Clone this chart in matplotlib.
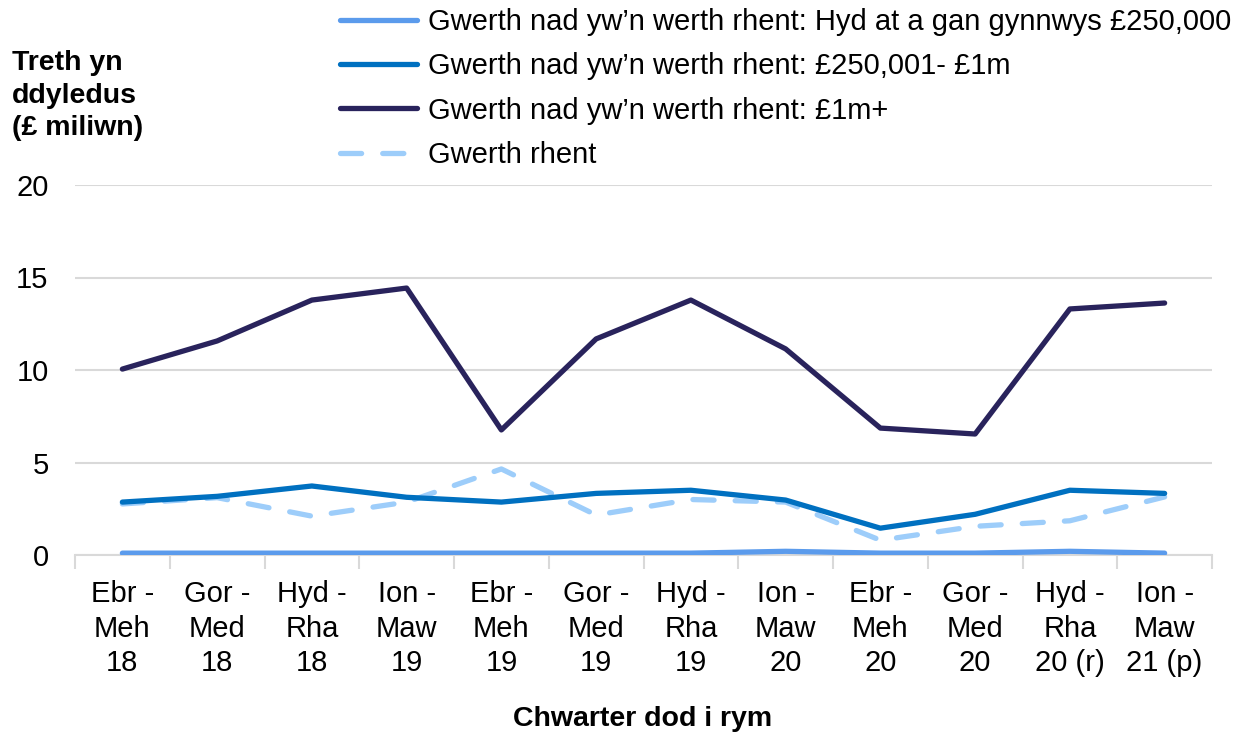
import matplotlib
matplotlib.use('Agg')
import matplotlib.pyplot as plt
import numpy as np

plt.rcParams['font.family'] = ['Liberation Sans', 'DejaVu Sans']

# DATA
quarters = ['Ebr -\nMeh\n18', 'Gor -\nMed\n18', 'Hyd -\nRha\n18', 'Ion -\nMaw\n19',
            'Ebr -\nMeh\n19', 'Gor -\nMed\n19', 'Hyd -\nRha\n19', 'Ion -\nMaw\n20',
            'Ebr -\nMeh\n20', 'Gor -\nMed\n20', 'Hyd -\nRha\n20 (r)', 'Ion -\nMaw\n21 (p)']
low_band = [0.1, 0.1, 0.1, 0.1, 0.1, 0.1, 0.1, 0.2, 0.1, 0.1, 0.2, 0.1]
mid_band = [2.86, 3.17, 3.73, 3.12, 2.86, 3.33, 3.5, 2.97, 1.45, 2.2, 3.5, 3.33]
high_band = [10.05, 11.57, 13.78, 14.43, 6.76, 11.68, 13.78, 11.14, 6.86, 6.54, 13.3, 13.62]
rent = [2.76, 3.1, 2.1, 2.86, 4.65, 2.16, 3.0, 2.86, 0.8, 1.55, 1.85, 3.14]
labels = ['Gwerth nad yw\u2019n werth rhent: Hyd at a gan gynnwys \u00a3250,000',
          'Gwerth nad yw\u2019n werth rhent: \u00a3250,001- \u00a31m',
          'Gwerth nad yw\u2019n werth rhent: \u00a31m+',
          'Gwerth rhent']

fig = plt.figure(figsize=(12.59, 7.33), dpi=100)
ax = fig.add_axes([75/1259, 1-555/733, (1212-75)/1259, (555-185)/733])

x = np.arange(len(quarters))
lw = 3.8
l1, = ax.plot(x, low_band, color='#5b9bec', lw=lw, solid_capstyle='round', zorder=3)
l2, = ax.plot(x, mid_band, color='#0070c0', lw=lw, solid_capstyle='round', zorder=4)
l3, = ax.plot(x, high_band, color='#29235c', lw=lw, solid_capstyle='round', zorder=5)
l4, = ax.plot(x, rent, color='#9dcdfa', lw=lw, dashes=(4, 4), dash_capstyle='round', zorder=3)

ax.set_xlim(-0.5, len(quarters) - 0.5)
ax.set_ylim(0, 20)
ax.set_yticks([0, 5, 10, 15, 20])
ax.yaxis.grid(True, color='#d9d9d9', lw=1.5)
ax.set_axisbelow(True)
for s in ['top', 'right', 'left']:
    ax.spines[s].set_visible(False)
ax.spines['bottom'].set_color('#d9d9d9')
ax.spines['bottom'].set_linewidth(1.5)

ax.set_xticks(x)
ax.set_xticklabels(quarters, fontsize=21, linespacing=1.3)
ax.tick_params(axis='x', which='major', length=0, pad=18)
ax.set_xticks(np.arange(-0.5, len(quarters), 1), minor=True)
ax.tick_params(axis='x', which='minor', length=10, width=1.5, color='#d9d9d9')
ax.tick_params(axis='y', length=0, labelsize=21, pad=19)

fig.text(12/1259, 1-50/733, 'Treth yn\nddyledus\n(\u00a3 miliwn)', fontsize=20.5, fontweight='bold',
         va='top', ha='left', linespacing=1.33)
fig.text(643/1259, 1-719/733, 'Chwarter dod i rym', fontsize=20.5, fontweight='bold',
         va='center', ha='center')

fig.legend([l1, l2, l3, l4], labels, loc='upper left', bbox_to_anchor=(340/1259, 1 - 8/733),
           frameon=False, fontsize=21, handlelength=2.65, handletextpad=0.35,
           labelspacing=0.56, borderpad=0, borderaxespad=0)

fig.savefig('out.png', dpi=100)
